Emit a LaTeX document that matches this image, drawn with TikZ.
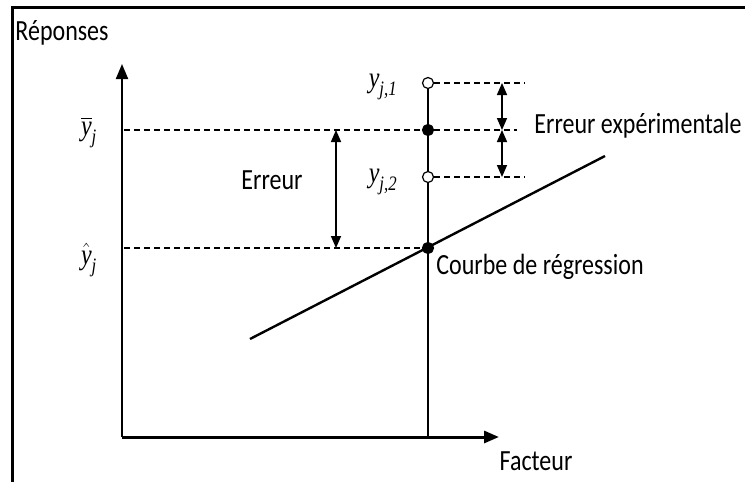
\documentclass[tikz,border=0pt]{standalone}
\usepackage{fix-cm}
\usepackage{amsmath}
\usepackage{graphicx}
\usepackage{fontspec}
\setmainfont{Carlito}
\newfontfamily\tms{Liberation Serif}
\newcommand{\tvar}[1]{\text{\tms\itshape #1}}
\newcommand{\haut}[1]{\scalebox{1}[1.22]{#1}}
\usetikzlibrary{arrows.meta}
\tikzset{
  pt/.style={circle,draw,line width=1.2pt,inner sep=0pt,minimum size=11pt},
  vide/.style={pt,fill=white},
  plein/.style={pt,fill=black},
  tirets/.style={line width=1.8pt,dash pattern=on 6pt off 4pt},
  fleche/.style={line width=1.6pt,{Triangle[length=12pt,width=10pt]}-{Triangle[length=12pt,width=10pt]}},
  lab/.style={font=\fontsize{24}{28}\selectfont},
  mlab/.style={font=\fontsize{24}{28}\selectfont},
}
\begin{document}
\begin{tikzpicture}[x=1pt,y=-1pt]
\useasboundingbox (0,0) rectangle (745,482);
% Frame
\draw[line width=3pt] (12,482) -- (12,7) -- (745,7);

% Axes
\coordinate (O) at (122,437);
\coordinate (ytop) at (122,64);
\coordinate (xend) at (499,437);
\draw[line width=2pt,-{Triangle[length=15pt,width=12pt]}] (O) -- (ytop);
\draw[line width=3pt,-{Triangle[length=15pt,width=12pt]}] (O) -- (xend);

% Points
\coordinate (pied) at (428,437);
\node[vide] (yun) at (428,83) {};
\node[plein] (ybar) at (428,130) {};
\node[vide] (ydeux) at (428,177) {};
\node[plein] (yhat) at (428,248) {};
\draw[line width=1.5pt] (pied) -- (yhat.south) (yhat.north) -- (ydeux.south)
  (ydeux.north) -- (ybar.south) (ybar.north) -- (yun.south);

% Regression line
\coordinate (r1) at (250,339);
\coordinate (r2) at (605,156);
\draw[line width=2.4pt] (r1) -- (r2);

% Dashed lines
\coordinate (gbar) at (124,130);
\coordinate (dbar) at (517,130);
\coordinate (dun) at (525,83);
\coordinate (ddeux) at (525,177);
\coordinate (ghat) at (124,248);
\draw[tirets] (gbar) -- (ybar.west) (ybar.east) -- (dbar);
\draw[tirets] (yun.east) -- (dun);
\draw[tirets] (ydeux.east) -- (ddeux);
\draw[tirets] (ghat) -- (yhat.west);

% Arrows
\coordinate (e1) at (502,83);
\coordinate (e2) at (502,130);
\coordinate (e3) at (502,177);
\draw[fleche] (e1) -- (e2);
\draw[fleche] (e2) -- (e3);
\coordinate (a1) at (336,130);
\coordinate (a2) at (336,248);
\draw[fleche] (a1) -- (a2);

% Labels
\node[lab] (reponses) at (62,33) {\haut{Réponses}};
\node[mlab] (lbar) at (89,132) {\haut{$\overline{\tvar{y}}_{\tvar{j}}$}};
\node[mlab] (lhat) at (89,260) {\haut{$\hat{\tvar{y}}_{\tvar{j}}$}};
\node[mlab] (lun) at (383,87) {\haut{$\tvar{y}_{\tvar{j,1}}$}};
\node[mlab] (ldeux) at (383,182) {\haut{$\tvar{y}_{\tvar{j,2}}$}};
\node[lab] (erreur) at (272,180) {\haut{Erreur}};
\node[lab] (experr) at (638,126) {\haut{Erreur expérimentale}};
\node[lab] (courbe) at (540,267) {\haut{Courbe de régression}};
\node[lab] (facteur) at (536,461) {\haut{Facteur}};
\end{tikzpicture}
\end{document}
